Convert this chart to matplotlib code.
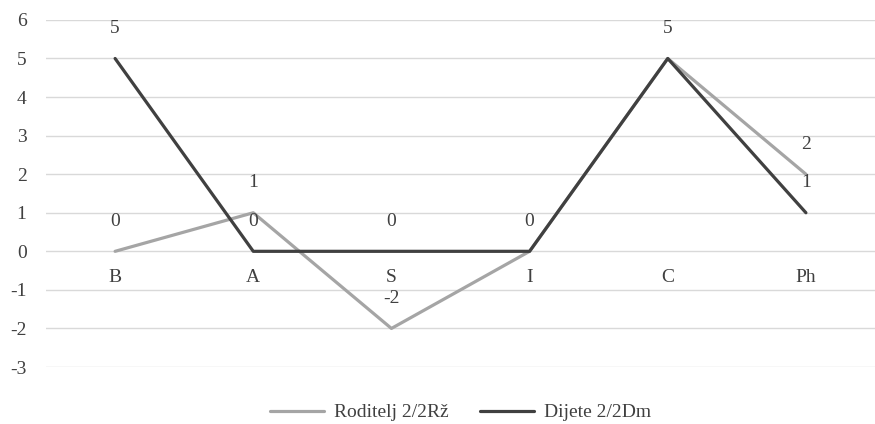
import matplotlib
matplotlib.use("Agg")
import matplotlib.pyplot as plt

categories = ["B", "A", "S", "I", "C", "Ph"]
roditelj = [0, 1, -2, 0, 5, 2]
dijete = [5, 0, 0, 0, 5, 1]
y_ticks = [-3, -2, -1, 0, 1, 2, 3, 4, 5, 6]

plt.rcParams["font.family"] = ["Liberation Serif", "DejaVu Serif"]

fig = plt.figure(figsize=(8.75, 4.24), dpi=100)
ax = fig.add_axes([0.0526, 0.1344, 0.9474, 0.8186])

x = list(range(len(categories)))
gray = "#a5a5a5"
dark = "#404040"
txt = "#404040"
fs = 14

ax.plot(x, roditelj, color=gray, lw=2.3, label="Roditelj 2/2Rž", solid_capstyle="round", zorder=3)
ax.plot(x, dijete, color=dark, lw=2.3, label="Dijete 2/2Dm", solid_capstyle="round", zorder=4)

for xi, v in zip(x, roditelj):
    ax.annotate(str(v), (xi, v), xytext=(0, 30), textcoords="offset pixels",
                ha="center", va="center", fontsize=fs, color=txt)
for xi, v, r in zip(x, dijete, roditelj):
    if v == r:
        continue  # same label already drawn for the other series
    ax.annotate(str(v), (xi, v), xytext=(0, 30), textcoords="offset pixels",
                ha="center", va="center", fontsize=fs, color=txt)

ax.set_xlim(-0.5, len(categories) - 0.5)
ax.set_ylim(-3, 6)
ax.set_yticks(y_ticks)
ax.set_yticklabels([str(t) for t in y_ticks], fontsize=fs, color=txt)
ax.tick_params(axis="y", length=0, pad=14)
ax.set_xticks([])
ax.grid(axis="y", color="#d9d9d9", lw=1)
ax.set_axisbelow(True)
for s in ax.spines.values():
    s.set_visible(False)

# category names sit just under the zero line
for xi, c in zip(x, categories):
    ax.annotate(c, (xi, 0), xytext=(0, -26), textcoords="offset pixels",
                ha="center", va="center", fontsize=fs, color=txt)

fig.legend(loc="lower center", bbox_to_anchor=(0.526, -0.035), ncol=2, frameon=False,
           fontsize=fs, handlelength=2.8, handletextpad=0.5, columnspacing=1.6,
           labelcolor=txt)

fig.savefig("out.png", dpi=100)
